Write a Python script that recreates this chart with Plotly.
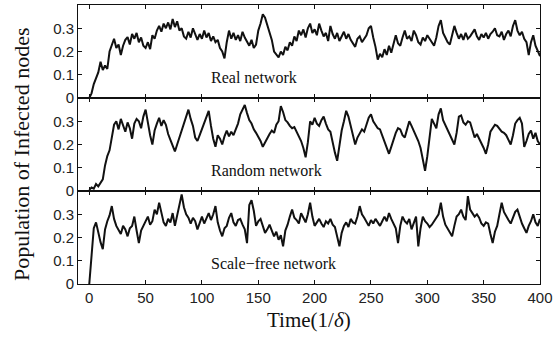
import plotly.graph_objects as go
from plotly.subplots import make_subplots

TIME = list(range(0, 401, 2))

REAL = [
    0.000, 0.020, 0.060, 0.090, 0.110, 0.156, 0.120, 0.140, 0.125, 0.200,
    0.230, 0.255, 0.215, 0.230, 0.185, 0.225, 0.250, 0.262, 0.230, 0.275,
    0.255, 0.280, 0.240, 0.260, 0.225, 0.215, 0.240, 0.210, 0.270, 0.255,
    0.290, 0.310, 0.285, 0.320, 0.300, 0.325, 0.295, 0.340, 0.305, 0.330,
    0.290, 0.300, 0.265, 0.255, 0.285, 0.260, 0.300, 0.275, 0.250, 0.275,
    0.255, 0.290, 0.260, 0.280, 0.245, 0.265, 0.240, 0.250, 0.215, 0.200,
    0.170, 0.240, 0.290, 0.255, 0.280, 0.250, 0.270, 0.245, 0.285, 0.260,
    0.240, 0.225, 0.250, 0.215, 0.230, 0.290, 0.320, 0.360, 0.345, 0.315,
    0.290, 0.250, 0.200, 0.185, 0.175, 0.200, 0.185, 0.220, 0.205, 0.240,
    0.225, 0.265, 0.245, 0.290, 0.270, 0.295, 0.260, 0.300, 0.320, 0.280,
    0.295, 0.270, 0.320, 0.290, 0.265, 0.280, 0.245, 0.310, 0.275, 0.255,
    0.280, 0.245, 0.265, 0.285, 0.255, 0.275, 0.250, 0.235, 0.220, 0.255,
    0.265, 0.240, 0.255, 0.270, 0.300, 0.310, 0.260, 0.220, 0.165, 0.190,
    0.175, 0.210, 0.185, 0.225, 0.195, 0.240, 0.270, 0.235, 0.225, 0.260,
    0.290, 0.255, 0.265, 0.245, 0.290, 0.270, 0.240, 0.230, 0.260, 0.245,
    0.270, 0.255, 0.240, 0.225, 0.260, 0.310, 0.335, 0.280, 0.260, 0.240,
    0.230, 0.270, 0.310, 0.280, 0.255, 0.275, 0.250, 0.280, 0.255, 0.265,
    0.280, 0.295, 0.265, 0.250, 0.275, 0.260, 0.280, 0.255, 0.275, 0.285,
    0.300, 0.270, 0.265, 0.285, 0.250, 0.275, 0.290, 0.265, 0.310, 0.335,
    0.290, 0.270, 0.285, 0.255, 0.240, 0.185, 0.240, 0.270, 0.225, 0.200,
    0.180,
]

RANDOM = [
    0.005, 0.015, 0.010, 0.030, 0.020, 0.035, 0.050, 0.110, 0.150, 0.175,
    0.225, 0.285, 0.300, 0.265, 0.310, 0.285, 0.255, 0.295, 0.270, 0.225,
    0.290, 0.310, 0.300, 0.270, 0.320, 0.350, 0.290, 0.240, 0.200, 0.260,
    0.290, 0.315, 0.280, 0.305, 0.285, 0.245, 0.220, 0.195, 0.170, 0.200,
    0.230, 0.270, 0.295, 0.320, 0.350, 0.310, 0.280, 0.230, 0.215, 0.240,
    0.265, 0.295, 0.320, 0.345, 0.280, 0.225, 0.190, 0.240, 0.225, 0.200,
    0.235, 0.260, 0.235, 0.255, 0.240, 0.265, 0.290, 0.330, 0.350, 0.370,
    0.335, 0.305, 0.290, 0.265, 0.250, 0.235, 0.215, 0.190, 0.210, 0.230,
    0.245, 0.260, 0.250, 0.285, 0.300, 0.365, 0.340, 0.305, 0.295, 0.280,
    0.270, 0.275, 0.255, 0.240, 0.215, 0.185, 0.145, 0.210, 0.300, 0.285,
    0.315, 0.290, 0.280, 0.305, 0.320, 0.290, 0.265, 0.255, 0.205, 0.165,
    0.130, 0.200, 0.260, 0.300, 0.345, 0.320, 0.275, 0.240, 0.200, 0.230,
    0.245, 0.265, 0.255, 0.285, 0.315, 0.330, 0.300, 0.285, 0.270, 0.265,
    0.240, 0.215, 0.185, 0.160, 0.190, 0.225, 0.250, 0.270, 0.265, 0.240,
    0.230, 0.265, 0.300, 0.280, 0.260, 0.240, 0.215, 0.185, 0.130, 0.087,
    0.150, 0.230, 0.310, 0.290, 0.270, 0.330, 0.355, 0.305, 0.285, 0.265,
    0.245, 0.225, 0.200, 0.250, 0.320, 0.325, 0.295, 0.285, 0.300, 0.295,
    0.260, 0.230, 0.245, 0.225, 0.210, 0.185, 0.160, 0.200, 0.255, 0.270,
    0.285, 0.280, 0.265, 0.255, 0.250, 0.240, 0.220, 0.200, 0.240, 0.290,
    0.305, 0.315, 0.290, 0.190, 0.215, 0.245, 0.260, 0.225, 0.250, 0.215,
    0.200,
]

SCALE_FREE = [
    0.000, 0.130, 0.240, 0.265, 0.215, 0.180, 0.150, 0.235, 0.270, 0.295,
    0.335, 0.280, 0.250, 0.230, 0.215, 0.250, 0.235, 0.205, 0.240, 0.250,
    0.290, 0.230, 0.176, 0.230, 0.250, 0.265, 0.290, 0.255, 0.270, 0.320,
    0.300, 0.350, 0.305, 0.265, 0.250, 0.280, 0.265, 0.305, 0.250, 0.300,
    0.335, 0.385, 0.330, 0.300, 0.285, 0.260, 0.285, 0.270, 0.235, 0.260,
    0.290, 0.260, 0.285, 0.305, 0.275, 0.300, 0.335, 0.265, 0.230, 0.205,
    0.240, 0.250, 0.285, 0.305, 0.265, 0.250, 0.275, 0.280, 0.255, 0.235,
    0.176, 0.340, 0.360, 0.315, 0.250, 0.270, 0.280, 0.250, 0.220, 0.235,
    0.255, 0.230, 0.205, 0.225, 0.190, 0.210, 0.162, 0.230, 0.255, 0.290,
    0.320, 0.285, 0.275, 0.260, 0.305, 0.285, 0.265, 0.300, 0.350, 0.290,
    0.250, 0.265, 0.280, 0.260, 0.245, 0.270, 0.260, 0.280, 0.255, 0.245,
    0.205, 0.162, 0.220, 0.250, 0.265, 0.245, 0.280, 0.265, 0.260, 0.290,
    0.335, 0.300, 0.285, 0.265, 0.250, 0.275, 0.260, 0.280, 0.265, 0.250,
    0.270, 0.290, 0.270, 0.305, 0.280, 0.260, 0.240, 0.176, 0.250, 0.290,
    0.270, 0.260, 0.280, 0.235, 0.260, 0.290, 0.162, 0.240, 0.290, 0.270,
    0.260, 0.245, 0.255, 0.270, 0.280, 0.300, 0.350, 0.290, 0.255, 0.240,
    0.220, 0.205, 0.250, 0.290, 0.300, 0.320, 0.290, 0.275, 0.378, 0.320,
    0.305, 0.290, 0.300, 0.285, 0.260, 0.250, 0.265, 0.260, 0.215, 0.176,
    0.225, 0.250, 0.300, 0.350, 0.310, 0.290, 0.275, 0.260, 0.290, 0.310,
    0.320, 0.285, 0.260, 0.240, 0.220, 0.250, 0.270, 0.300, 0.265, 0.250,
    0.280,
]

SERIES = [REAL, RANDOM, SCALE_FREE]
PANEL_LABELS = ["Real network", "Random network", "Scale\u2212free network"]
X_TICKS = [0, 50, 100, 150, 200, 250, 300, 350, 400]
Y_TICKS = [0, 0.1, 0.2, 0.3]
Y_TICK_TEXT = ["0", "0.1", "0.2", "0.3"]
X_TITLE = "Time(1/<i>\u03b4</i>)"
Y_TITLE = "Population of Infected nodes"

fig = make_subplots(rows=3, cols=1, shared_xaxes=True, vertical_spacing=0)

for i, (vals, label) in enumerate(zip(SERIES, PANEL_LABELS)):
    row = i + 1
    n = min(len(vals), len(TIME))
    fig.add_trace(
        go.Scatter(x=TIME[:n], y=vals[:n], mode="lines",
                   line=dict(color="#111111", width=2),
                   showlegend=False, hoverinfo="skip"),
        row=row, col=1,
    )
    fig.add_annotation(
        x=106, y=0.09, xref=f"x{'' if row == 1 else row}", yref=f"y{'' if row == 1 else row}",
        text=label, showarrow=False, xanchor="left", yanchor="middle",
        font=dict(family="Liberation Serif", size=16, color="#111111"),
    )

axis_common = dict(
    showline=True, linecolor="#111111", linewidth=1, mirror="ticks",
    ticks="inside", ticklen=4, tickcolor="#111111", tickwidth=1,
    showgrid=False, zeroline=False,
    tickfont=dict(family="Liberation Sans", size=15, color="#222222"),
)

for row in range(1, 4):
    fig.update_xaxes(range=[-10, 400], tickvals=X_TICKS,
                     ticktext=[str(v) for v in X_TICKS],
                     row=row, col=1, **axis_common)
    fig.update_yaxes(range=[0, 0.4], tickvals=Y_TICKS, ticktext=Y_TICK_TEXT,
                     row=row, col=1, **axis_common)

fig.add_annotation(
    x=0.5, y=-0.13, xref="paper", yref="paper", text=X_TITLE,
    showarrow=False, xanchor="center", yanchor="middle",
    font=dict(family="Liberation Serif", size=21, color="#111111"),
)
fig.add_annotation(
    x=-0.121, y=0.466, xref="paper", yref="paper", text=Y_TITLE,
    showarrow=False, xanchor="center", yanchor="middle", textangle=-90,
    font=dict(family="Liberation Serif", size=22, color="#111111"),
)

fig.update_layout(
    width=559, height=337,
    margin=dict(l=78, r=19, t=5, b=53),
    paper_bgcolor="white", plot_bgcolor="white",
)

fig.write_html("out.html")
